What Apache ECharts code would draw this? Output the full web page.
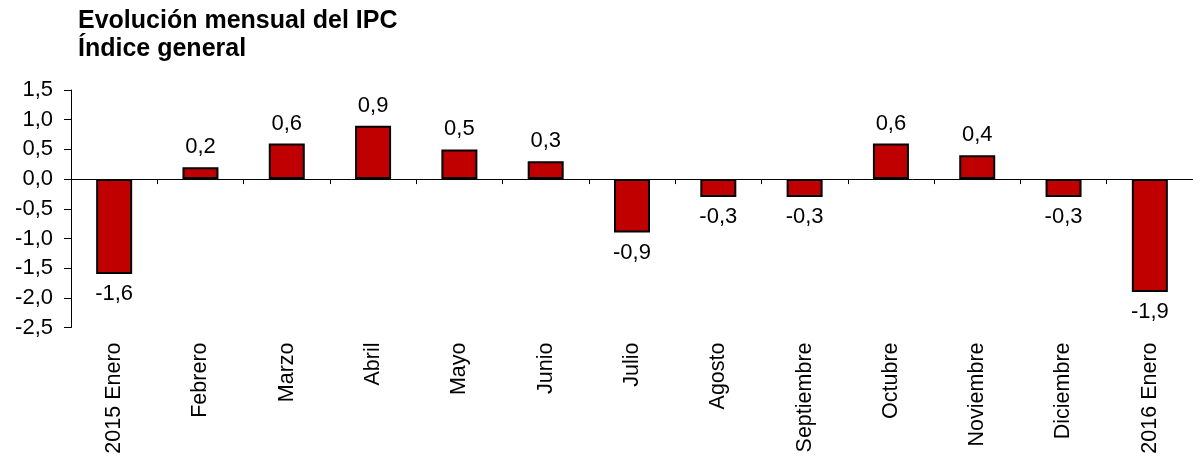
<!DOCTYPE html>
<html><head><meta charset="utf-8">
<script src="https://cdn.jsdelivr.net/npm/echarts@6/dist/echarts.min.js"></script>
<style>html,body{margin:0;padding:0;background:#fff}#c{width:1193px;height:458px}</style>
</head><body><div id="c"></div>
<script>
const categories = ['2015 Enero','Febrero','Marzo','Abril','Mayo','Junio','Julio','Agosto','Septiembre','Octubre','Noviembre','Diciembre','2016 Enero'];
const values = [-1.6, 0.2, 0.6, 0.9, 0.5, 0.3, -0.9, -0.3, -0.3, 0.6, 0.4, -0.3, -1.9];
const titleLines = ['Evolución mensual del IPC', 'Índice general'];
const yMin = -2.5, yMax = 1.5, yStep = 0.5;

const fmt = v => Number(v).toFixed(1).replace('.', ',');
const FONT = '"Liberation Sans", Arial, sans-serif';

const chart = echarts.init(document.getElementById('c'), null, {renderer: 'canvas'});
chart.setOption({
  animation: false,
  backgroundColor: '#fff',
  title: {
    text: titleLines.join('\n'),
    left: 73, top: 2,
    textStyle: {fontFamily: FONT, fontSize: 25, fontWeight: 'bold', color: '#000', lineHeight: 28}
  },
  grid: {left: 71, top: 90, width: 1126, height: 237.5, containLabel: false},
  xAxis: [
    {
      type: 'category', data: categories, position: 'bottom',
      axisLine: {show: false, onZero: false}, axisTick: {show: false},
      axisLabel: {rotate: 90, margin: 15, fontFamily: FONT, fontSize: 21.5, color: '#000'}
    },
    {
      type: 'category', data: categories, position: 'top',
      axisLine: {show: true, onZero: true, lineStyle: {color: '#000', width: 1}},
      axisTick: {show: true, inside: true, length: 5, lineStyle: {color: '#000'}},
      axisLabel: {show: false}
    }
  ],
  yAxis: {
    type: 'value', min: yMin, max: yMax, interval: yStep,
    splitLine: {show: false},
    axisLine: {show: true, lineStyle: {color: '#000', width: 1}},
    axisTick: {show: true, length: 7, lineStyle: {color: '#000'}},
    axisLabel: {formatter: fmt, margin: 18, fontFamily: FONT, fontSize: 22, color: '#000'}
  },
  series: [{
    type: 'bar', xAxisIndex: 0, barWidth: 36,
    data: values.map(v => ({value: v, label: {position: v < 0 ? 'bottom' : 'top'}})),
    itemStyle: {color: '#C00000', borderColor: '#000', borderWidth: 2},
    label: {show: true, distance: 9, formatter: p => fmt(p.value), fontFamily: FONT, fontSize: 22, color: '#000'}
  }]
});
</script></body></html>
